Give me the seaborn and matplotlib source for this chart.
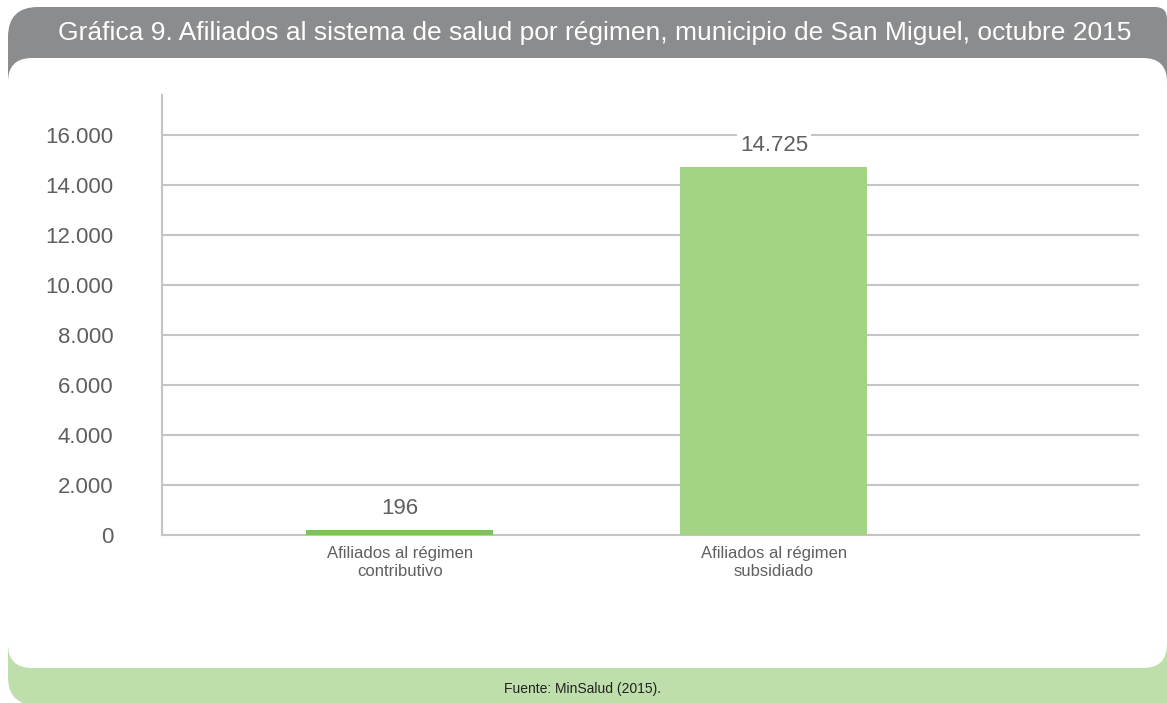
import matplotlib
matplotlib.use("Agg")
import matplotlib.pyplot as plt
import seaborn as sns
import pandas as pd
from matplotlib.patches import FancyBboxPatch
from matplotlib.ticker import FuncFormatter

# data
categorias = ["Afiliados al régimen\ncontributivo", "Afiliados al régimen\nsubsidiado"]
afiliados = [196, 14725]
colores = ["#7dc35b", "#a3d384"]
y_ticks = [0, 2000, 4000, 6000, 8000, 10000, 12000, 14000, 16000]

titulo = "Gráfica 9. Afiliados al sistema de salud por régimen, municipio de San Miguel, octubre 2015"
fuente = "Fuente: MinSalud (2015)."

GRIS = "#8b8c8e"
VERDE = "#bedfac"
TEXTO = "#5f5f5f"
GRID = "#c4c4c8"


def miles(v, pos=None):
    return f"{int(round(v)):,}".replace(",", ".")


sns.set_theme(style="white")
plt.rcParams["font.family"] = ["Liberation Sans Narrow", "Liberation Sans", "DejaVu Sans"]

W, H = 1167, 703
fig = plt.figure(figsize=(W / 100, H / 100), dpi=100)
fig.patch.set_facecolor("white")

# background frame drawn in pixel coordinates
bg = fig.add_axes([0, 0, 1, 1], zorder=0)
bg.set_xlim(0, W)
bg.set_ylim(H, 0)
bg.axis("off")
# gray header: big round corner on the left, small one on the right
bg.add_patch(FancyBboxPatch((8, 7), 600, 140, boxstyle="round,pad=0,rounding_size=30",
                            fc=GRIS, ec="none"))
bg.add_patch(FancyBboxPatch((500, 7), 667, 140, boxstyle="round,pad=0,rounding_size=12",
                            fc=GRIS, ec="none"))
bg.add_patch(FancyBboxPatch((8, 560), 1300, 145, boxstyle="round,pad=0,rounding_size=28",
                            fc=VERDE, ec="none"))
bg.add_patch(FancyBboxPatch((8, 58), 1159, 610, boxstyle="round,pad=0,rounding_size=24",
                            fc="white", ec="none"))
bg.text(595, 33, titulo, color="white", fontsize=19, ha="center", va="center")
bg.text(583, 689, fuente, color="#222222", fontsize=10, ha="center", va="center")

# chart
ax = fig.add_axes([162 / W, (H - 535) / H, 977 / W, 440 / H], zorder=2)
ax.patch.set_alpha(0)
df = pd.DataFrame({"categoria": categorias, "afiliados": afiliados})
sns.barplot(data=df, x="categoria", y="afiliados", hue="categoria", palette=colores,
            legend=False, width=0.5, saturation=1, linewidth=0, ax=ax, zorder=3)
ax.set_xlim(-0.636, 1.976)
ax.set_ylim(0, 17600)
ax.set_yticks(y_ticks)
ax.yaxis.set_major_formatter(FuncFormatter(miles))
ax.grid(axis="y", color=GRID, linewidth=1.5, zorder=0)
ax.set_axisbelow(True)
ax.set_xlabel("")
ax.set_ylabel("")
for s in ["top", "right"]:
    ax.spines[s].set_visible(False)
for s in ["left", "bottom"]:
    ax.spines[s].set_color(GRID)
    ax.spines[s].set_linewidth(1.5)
ax.tick_params(axis="y", length=0, pad=35, labelsize=16, labelcolor=TEXTO)
ax.tick_params(axis="x", length=0, pad=8, labelsize=12, labelcolor=TEXTO)

for cont in ax.containers:
    ax.bar_label(cont, labels=[miles(v) for v in cont.datavalues], padding=8,
                 fontsize=16, color=TEXTO,
                 bbox=dict(fc="white", ec="none", pad=2))

fig.savefig("out.png", dpi=100)
